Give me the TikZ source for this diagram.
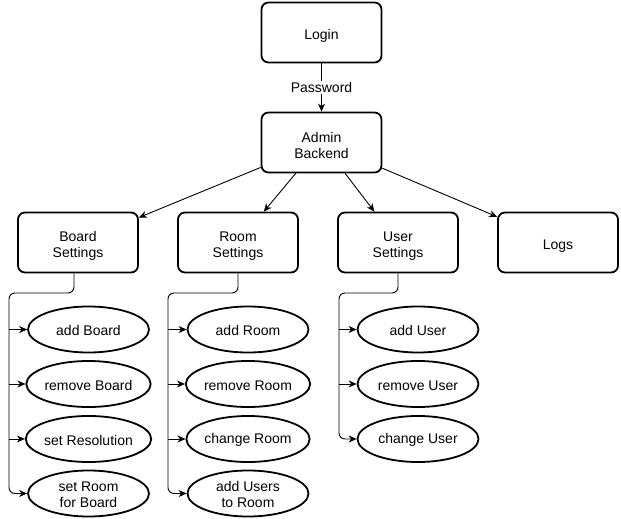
\documentclass[tikz,border=0pt]{standalone}
\usepackage{fontspec}
\setmainfont{Liberation Sans}
\usetikzlibrary{arrows.meta,shapes.geometric}

\tikzset{
  txt/.style={font=\fontsize{14}{16}\selectfont, align=center},
  box/.style={txt, draw, line width=1.8pt, rounded corners=7pt,
    minimum width=120pt, minimum height=60pt, inner sep=0pt},
  task/.style={txt, draw, ellipse, line width=1.8pt,
    minimum width=121pt, minimum height=46pt, inner sep=0pt},
  conn/.style={line width=0.9pt, -{Stealth[length=8pt,width=7pt,inset=2.5pt]}},
  trunk/.style={line width=0.9pt, rounded corners=6pt},
}
% a taller first line pushes the text block down inside its frame
\newcommand{\firstline}[1]{\rule{0pt}{#1}}

\begin{document}
\begin{tikzpicture}[x=1pt, y=-1pt]
  \useasboundingbox (0,0) rectangle (621,519);

  % top level
  \node[box] (login) at (321.5,32.5) {\firstline{16pt}Login};
  \node[box] (admin) at (321.5,142.5) {\firstline{16pt}Admin\\Backend};

  \node[box] (board) at (78,242.5)  {\firstline{16pt}Board\\Settings};
  \node[box] (room)  at (238,242.5) {\firstline{16pt}Room\\Settings};
  \node[box] (user)  at (398,242.5) {\firstline{16pt}User\\Settings};
  \node[box] (logs)  at (558,242.5) {\firstline{16pt}Logs};

  \draw[conn] (login) -- node[txt, fill=white, inner sep=1.5pt] (pw) {Password} (admin);
  \draw[conn] (admin) -- (board);
  \draw[conn] (admin) -- (room);
  \draw[conn] (admin) -- (user);
  \draw[conn] (admin) -- (logs);

  % board tasks
  \node[task] (b1) at (88.5,329.5) {\firstline{12.8pt}add Board};
  \node[task] (b2) at (88.5,384)   {\firstline{12.8pt}remove Board};
  \node[task] (b3) at (88.5,439)   {\firstline{12.8pt}set Resolution};
  \node[task] (b4) at (88.5,493.5) {\firstline{12.8pt}set Room\\for Board};

  % room tasks
  \node[task] (r1) at (248,329.5) {\firstline{12.8pt}add Room};
  \node[task] (r2) at (248,384)   {\firstline{12.8pt}remove Room};
  \node[task] (r3) at (248,439)   {\firstline{12.8pt}change Room};
  \node[task] (r4) at (248,493.5) {\firstline{12.8pt}add Users\\to Room};

  % user tasks
  \node[task] (u1) at (418,329.5) {\firstline{12.8pt}add User};
  \node[task] (u2) at (418,384)   {\firstline{12.8pt}remove User};
  \node[task] (u3) at (418,439)   {\firstline{12.8pt}change User};

  % trunk junctions
  \coordinate (bj) at (9,293);
  \coordinate (rj) at (168,293);
  \coordinate (uj) at (339,293);

  % board tree
  \draw[trunk, conn] ([xshift=-4pt]board.south) |- (bj) -- (bj |- b4.west) -- (b4.west);
  \draw[conn] (bj |- b1.west) -- (b1.west);
  \draw[conn] (bj |- b2.west) -- (b2.west);
  \draw[conn] (bj |- b3.west) -- (b3.west);

  % room tree
  \draw[trunk, conn] (room.south) |- (rj) -- (rj |- r4.west) -- (r4.west);
  \draw[conn] (rj |- r1.west) -- (r1.west);
  \draw[conn] (rj |- r2.west) -- (r2.west);
  \draw[conn] (rj |- r3.west) -- (r3.west);

  % user tree
  \draw[trunk, conn] (user.south) |- (uj) -- (uj |- u3.west) -- (u3.west);
  \draw[conn] (uj |- u1.west) -- (u1.west);
  \draw[conn] (uj |- u2.west) -- (u2.west);
\end{tikzpicture}
\end{document}
